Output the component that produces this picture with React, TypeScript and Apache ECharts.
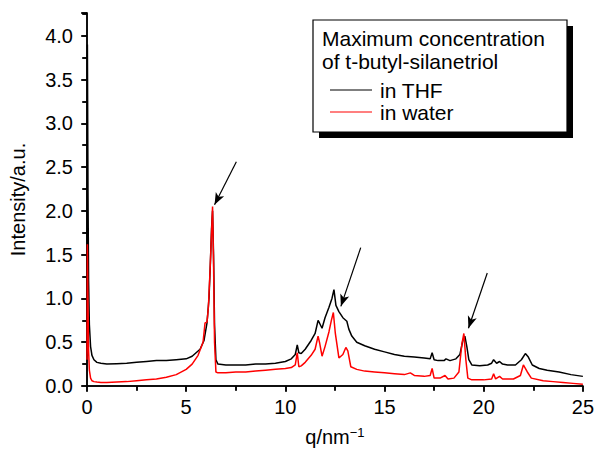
import React, { useEffect, useRef } from "react";
import * as echarts from "echarts";

const qTHF = [0, 0.02, 0.05, 0.08, 0.12, 0.18, 0.25, 0.35, 0.5, 0.7, 1.0, 1.5, 2, 2.5, 3, 3.5, 4, 4.5, 5, 5.3, 5.5, 5.7, 5.9, 6.05, 6.15, 6.22, 6.28, 6.33, 6.38, 6.43, 6.5, 6.6, 7, 7.5, 8, 8.5, 9, 9.5, 10, 10.3, 10.5, 10.6, 10.68, 10.8, 11, 11.3, 11.5, 11.65, 11.72, 11.85, 12.0, 12.2, 12.35, 12.45, 12.55, 12.7, 12.9, 13.1, 13.2, 13.35, 13.6, 14, 14.5, 15, 15.5, 16, 16.5, 17, 17.3, 17.4, 17.5, 17.7, 18, 18.1, 18.3, 18.6, 18.8, 18.95, 19.05, 19.15, 19.25, 19.4, 19.8, 20.2, 20.4, 20.5, 20.65, 20.8, 20.95, 21.2, 21.6, 21.9, 22.1, 22.25, 22.45, 22.8, 23.2, 23.8, 24.4, 25];
const iTHF = [0.7, 3.9, 2.2, 1.2, 0.7, 0.45, 0.35, 0.3, 0.27, 0.26, 0.25, 0.255, 0.26, 0.27, 0.28, 0.29, 0.29, 0.3, 0.31, 0.34, 0.38, 0.42, 0.52, 0.72, 1.0, 1.4, 1.8, 2.0, 1.5, 0.7, 0.3, 0.25, 0.24, 0.24, 0.24, 0.25, 0.25, 0.26, 0.28, 0.31, 0.36, 0.47, 0.38, 0.37, 0.42, 0.52, 0.6, 0.75, 0.72, 0.66, 0.78, 0.9, 1.0, 1.1, 0.92, 0.85, 0.78, 0.74, 0.65, 0.57, 0.5, 0.46, 0.42, 0.39, 0.36, 0.34, 0.33, 0.32, 0.31, 0.38, 0.3, 0.29, 0.29, 0.31, 0.29, 0.31, 0.36, 0.52, 0.57, 0.45, 0.3, 0.24, 0.23, 0.24, 0.26, 0.3, 0.26, 0.28, 0.25, 0.24, 0.24, 0.3, 0.37, 0.33, 0.24, 0.2, 0.18, 0.16, 0.13, 0.11];

const qWater = [0, 0.02, 0.05, 0.08, 0.12, 0.18, 0.25, 0.35, 0.5, 0.7, 1, 1.5, 2, 2.5, 3, 3.5, 4, 4.5, 5, 5.3, 5.6, 5.85, 5.95, 6.05, 6.12, 6.2, 6.27, 6.33, 6.38, 6.43, 6.5, 6.6, 7, 7.5, 8, 8.5, 9, 9.5, 10, 10.3, 10.5, 10.6, 10.68, 10.8, 11, 11.3, 11.5, 11.65, 11.72, 11.85, 12.0, 12.2, 12.32, 12.42, 12.52, 12.7, 12.9, 13.05, 13.15, 13.3, 13.6, 14, 14.5, 15, 15.5, 16, 16.3, 16.5, 17, 17.3, 17.4, 17.5, 17.8, 18.05, 18.2, 18.5, 18.75, 18.9, 19.0, 19.1, 19.2, 19.4, 20, 20.4, 20.5, 20.6, 20.8, 20.95, 21.5, 21.85, 22.0, 22.2, 22.4, 23, 23.5, 24, 24.5, 25];
const iWater = [0.3, 1.62, 0.9, 0.4, 0.18, 0.09, 0.06, 0.05, 0.045, 0.04, 0.04, 0.045, 0.05, 0.06, 0.07, 0.08, 0.1, 0.13, 0.19, 0.25, 0.35, 0.5, 0.72, 0.73, 0.9, 1.3, 1.7, 2.05, 1.4, 0.5, 0.16, 0.15, 0.15, 0.16, 0.16, 0.17, 0.18, 0.19, 0.2, 0.21, 0.24, 0.38, 0.22, 0.23, 0.27, 0.35, 0.42, 0.57, 0.5, 0.34, 0.45, 0.62, 0.75, 0.84, 0.6, 0.32, 0.36, 0.44, 0.4, 0.22, 0.19, 0.17, 0.16, 0.15, 0.14, 0.13, 0.15, 0.12, 0.11, 0.12, 0.2, 0.09, 0.09, 0.12, 0.08, 0.09, 0.16, 0.48, 0.6, 0.3, 0.09, 0.07, 0.07, 0.08, 0.14, 0.08, 0.11, 0.08, 0.08, 0.12, 0.24, 0.16, 0.09, 0.06, 0.05, 0.04, 0.03, 0.02];

// arrows: [tailQ, tailI, headQ, headI]
const arrows = [
  [7.53, 2.56, 6.43, 2.07],
  [13.8, 1.58, 12.8, 0.91],
  [20.18, 1.29, 19.23, 0.66],
];

const legendTitle = ["Maximum concentration", "of t-butyl-silanetriol"];
const seriesNames = ["in THF", "in water"];
const seriesColors = ["#000000", "#ff0000"];

const FONT = "'Liberation Sans', Arial, sans-serif";

export default function App() {
  const ref = useRef<HTMLDivElement>(null);
  useEffect(() => {
    if (!ref.current) return;
    const chart = echarts.init(ref.current, undefined, { renderer: "svg" });
    const zip = (xs: number[], ys: number[]) => xs.map((x, i) => [x, ys[i]]);
    const axisLine = { show: true, lineStyle: { color: "#000", width: 1.5 } };
    const yFmt = (v: number) => (Math.abs(v * 2 - Math.round(v * 2)) < 1e-6 ? v.toFixed(1) : "");
    const xFmt = (v: number) => (Math.abs(v / 5 - Math.round(v / 5)) < 1e-6 ? String(v) : "");
    chart.setOption({
      animation: false,
      grid: { left: 87, right: 12, top: 13, bottom: 67 },
      xAxis: [
        {
          type: "value",
          min: 0,
          max: 25,
          interval: 5,
          position: "bottom",
          axisLine,
          axisTick: { show: true, inside: false, length: 6, lineStyle: { color: "#000", width: 1.5 } },
          minorTick: { show: true, splitNumber: 2, length: 4, lineStyle: { color: "#000", width: 1.5 } },
          splitLine: { show: false },
          axisLabel: { color: "#000", fontSize: 20, fontFamily: FONT, margin: 11, formatter: xFmt },
          name: "{a|q/nm}{b|−1}",
          nameLocation: "middle",
          nameGap: 40,
          nameTextStyle: {
            rich: {
              a: { fontSize: 20, fontFamily: FONT, color: "#000" },
              b: { fontSize: 13, fontFamily: FONT, color: "#000", verticalAlign: "top", padding: [0, 0, 9, 0] },
            },
          },
        },
        {
          type: "value",
          min: 0,
          max: 25,
          interval: 5,
          position: "top",
          axisLine,
          axisTick: { show: true, inside: true, length: 5, lineStyle: { color: "#000", width: 1.5 } },
          minorTick: { show: true, splitNumber: 2, length: 5, lineStyle: { color: "#000", width: 1.5 } },
          splitLine: { show: false },
          axisLabel: { show: false },
        },
      ],
      yAxis: [
        {
          type: "value",
          min: 0,
          max: 4.26,
          interval: 0.5,
          position: "left",
          axisLine,
          axisTick: { show: true, inside: false, length: 6, lineStyle: { color: "#000", width: 1.5 } },
          minorTick: { show: true, splitNumber: 2, length: 4, lineStyle: { color: "#000", width: 1.5 } },
          splitLine: { show: false },
          axisLabel: { color: "#000", fontSize: 20, fontFamily: FONT, margin: 14, formatter: yFmt, showMaxLabel: false },
          name: "Intensity/a.u.",
          nameLocation: "middle",
          nameGap: 59,
          nameTextStyle: { fontSize: 20, fontFamily: FONT, color: "#000" },
        },
        {
          type: "value",
          min: 0,
          max: 4.26,
          interval: 0.5,
          position: "right",
          axisLine,
          axisTick: { show: true, inside: true, length: 5, lineStyle: { color: "#000", width: 1.5 } },
          minorTick: { show: true, splitNumber: 2, length: 5, lineStyle: { color: "#000", width: 1.5 } },
          splitLine: { show: false },
          axisLabel: { show: false },
        },
      ],
      series: [
        {
          name: seriesNames[0],
          type: "line",
          data: zip(qTHF, iTHF),
          showSymbol: false,
          lineStyle: { color: seriesColors[0], width: 1.5 },
          itemStyle: { color: seriesColors[0] },
          z: 2,
        },
        {
          name: seriesNames[1],
          type: "line",
          data: zip(qWater, iWater),
          showSymbol: false,
          lineStyle: { color: seriesColors[1], width: 1.5 },
          itemStyle: { color: seriesColors[1] },
          z: 3,
          markLine: {
            silent: true,
            symbol: ["none", "arrow"],
            symbolSize: [7, 12],
            label: { show: false },
            lineStyle: { color: "#000", width: 1.2, type: "solid" },
            data: arrows.map((a) => [{ coord: [a[0], a[1]] }, { coord: [a[2], a[3]] }]),
          },
        },
      ],
      graphic: [
        { type: "rect", shape: { x: 319, y: 26, width: 254, height: 112 }, style: { fill: "#000" }, z: 10 },
        { type: "rect", shape: { x: 313, y: 20, width: 254, height: 112 }, style: { fill: "#fff", stroke: "#000", lineWidth: 1.2 }, z: 11 },
        { type: "text", x: 322, y: 38, style: { text: legendTitle[0], font: `21px ${FONT}`, fill: "#000", verticalAlign: "middle" }, z: 12 },
        { type: "text", x: 322, y: 61, style: { text: legendTitle[1], font: `21px ${FONT}`, fill: "#000", verticalAlign: "middle" }, z: 12 },
        { type: "line", shape: { x1: 330, y1: 90, x2: 372, y2: 90 }, style: { stroke: seriesColors[0], lineWidth: 1.2 }, z: 12 },
        { type: "text", x: 380, y: 90, style: { text: seriesNames[0], font: `21px ${FONT}`, fill: "#000", verticalAlign: "middle" }, z: 12 },
        { type: "line", shape: { x1: 330, y1: 112, x2: 372, y2: 112 }, style: { stroke: seriesColors[1], lineWidth: 1.2 }, z: 12 },
        { type: "text", x: 380, y: 112, style: { text: seriesNames[1], font: `21px ${FONT}`, fill: "#000", verticalAlign: "middle" }, z: 12 },
      ],
    });
    return () => chart.dispose();
  }, []);
  return (
    <div
      ref={ref}
      style={{ position: "fixed", left: 0, top: 0, width: 597, height: 453, background: "#fff" }}
    />
  );
}
